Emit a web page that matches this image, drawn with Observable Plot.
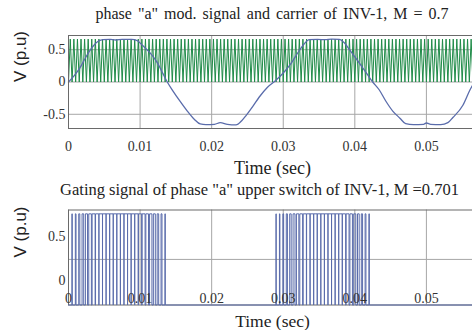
<!DOCTYPE html>
<html>
<head>
<meta charset="utf-8">
<script src="https://cdn.jsdelivr.net/npm/d3@7"></script>
<script src="https://cdn.jsdelivr.net/npm/@observablehq/plot@0.6"></script>
<style>
  html, body { margin: 0; padding: 0; background: #fff; }
  body { width: 472px; height: 330px; overflow: hidden; position: relative; }
  .ttl { position: absolute; left: 0; text-align: center; white-space: nowrap;
         font-family: "Liberation Serif", "Times New Roman", serif; font-size: 16px; line-height: 18px; color: #222; }
  .pl { position: absolute; left: 0; width: 478px; }
  .pl svg { max-width: none !important; display: block; overflow: visible; }
</style>
</head>
<body>
<div id="t1" class="ttl" style="top:5px; width:544px; word-spacing:2px;"></div>
<div id="p1" class="pl" style="top:28px;"></div>
<div id="t2" class="ttl" style="top:181px; width:519px; font-size:16.5px;"></div>
<div id="p2" class="pl" style="top:202px;"></div>
<script>
// ---- data ----
const title1 = 'phase "a" mod. signal and carrier of INV-1, M = 0.7';
const title2 = 'Gating signal of phase "a" upper switch of INV-1, M =0.701';
const xLabel = "Time (sec)";
const yLabel = "V (p.u)";
const xTicks = [0, 0.01, 0.02, 0.03, 0.04, 0.05];
const yTicksTop = [-0.5, 0, 0.5];
const gateGrid = [0.5];
const gateTickValues = [0.27, 0.75];
const gateTickLabels = ["0", "0.5"];

// modulating signal (time s, value p.u.)
const modT = [0, 0.0008, 0.0016, 0.0024, 0.0032, 0.004, 0.0048, 0.0058, 0.0066, 0.0075, 0.0088, 0.0096,
  0.0104, 0.0114, 0.0124, 0.0132, 0.0138, 0.0146, 0.0156, 0.0166, 0.0176, 0.0184, 0.0192, 0.0204,
  0.0212, 0.0222, 0.0234, 0.0242, 0.0248, 0.0258, 0.0266, 0.0278, 0.0289, 0.0300, 0.0311, 0.0322,
  0.0330, 0.0336, 0.0348, 0.0358, 0.0368, 0.0378, 0.0386, 0.0392, 0.0402, 0.0411, 0.0418, 0.0425,
  0.0434, 0.0443, 0.0453, 0.0463, 0.0471, 0.0482, 0.0496, 0.0500, 0.0506, 0.0520, 0.0530, 0.0537,
  0.0551, 0.0561, 0.0570];
const modV = [0, 0.10, 0.22, 0.38, 0.52, 0.62, 0.655, 0.66, 0.65, 0.66, 0.66, 0.64,
  0.56, 0.45, 0.30, 0.13, 0.0, -0.14, -0.30, -0.45, -0.58, -0.65, -0.66, -0.655,
  -0.63, -0.655, -0.665, -0.60, -0.52, -0.37, -0.24, -0.08, 0.02, 0.14, 0.29, 0.48,
  0.60, 0.655, 0.66, 0.655, 0.665, 0.66, 0.60, 0.51, 0.36, 0.22, 0.11, 0.0,
  -0.12, -0.29, -0.45, -0.56, -0.645, -0.66, -0.655, -0.635, -0.655, -0.66, -0.63, -0.55,
  -0.36, -0.12, 0.05];

// triangular carrier parameters
const carrierHz = 2000;
const carrierPeak = 0.665;
const tEnd = 0.057;

// ---- derived tables ----
const mod = modT.map((t, i) => ({t, v: modV[i]}));
const halfPeriod = 1 / (2 * carrierHz);
const carrier = d3.range(0, Math.ceil(tEnd / halfPeriod) + 1).map(k => ({t: k * halfPeriod, v: k % 2 ? carrierPeak : 0}));
const modAt = d3.scaleLinear().domain(modT).range(modV);
const carAt = d3.scaleLinear().domain(carrier.map(d => d.t)).range(carrier.map(d => d.v));
const gate = [];
{
  const dt = 1e-6;
  let prev = modAt(0) > carAt(0) ? 1 : 0;
  gate.push({t: 0, g: 0});
  gate.push({t: 0, g: prev});
  for (let t = dt; t <= tEnd; t += dt) {
    const g = modAt(t) > carAt(t) ? 1 : 0;
    if (g !== prev) { gate.push({t, g: prev}); gate.push({t, g}); prev = g; }
  }
  gate.push({t: tEnd, g: prev});
}

// ---- style ----
const green = "#1f8b48";
const blue = "#5a6cab";
const gridC = "#a6a6a6";
const frameC = "#6a6a6a";
const serif = '"Liberation Serif", "Times New Roman", serif';
const sans = '"Liberation Sans", Arial, sans-serif';

document.getElementById("t1").textContent = title1;
document.getElementById("t2").textContent = title2;

const tickText = {fontFamily: serif, fontSize: 14, fill: "#333"};

const p1 = Plot.plot({
  width: 478, height: 150,
  marginLeft: 68, marginRight: 2, marginTop: 7, marginBottom: 50,
  style: {fontFamily: serif, fontSize: "14px", color: "#333", background: "transparent"},
  x: {domain: [0, tEnd]},
  y: {domain: [-0.72, 0.72]},
  marks: [
    Plot.gridX(xTicks, {stroke: gridC, strokeOpacity: 1}),
    Plot.gridY(yTicksTop, {stroke: gridC, strokeOpacity: 1}),
    Plot.line(carrier, {x: "t", y: "v", stroke: green, strokeWidth: 1}),
    Plot.line(mod, {x: "t", y: "v", stroke: blue, strokeWidth: 1.3, curve: "monotone-x"}),
    Plot.frame({stroke: frameC}),
    Plot.axisX(xTicks, {tickSize: 0, tickPadding: 13, label: null, tickFormat: d => String(d), ...tickText}),
    Plot.axisY(yTicksTop, {tickSize: 0, tickPadding: 3, label: null, tickFormat: d => String(d), ...tickText}),
    Plot.text([xLabel], {text: d => d, frameAnchor: "bottom", lineAnchor: "middle", dy: 40, fontSize: 18, fontFamily: serif, fill: "#222"}),
    Plot.text([yLabel], {text: d => d, frameAnchor: "left", rotate: -90, dx: -48, fontSize: 17, fontFamily: sans, fill: "#222"})
  ]
});
document.getElementById("p1").appendChild(p1);

const p2 = Plot.plot({
  width: 478, height: 128,
  marginLeft: 68, marginRight: 2, marginTop: 7.5, marginBottom: 25.5,
  style: {fontFamily: serif, fontSize: "14px", color: "#333", background: "transparent"},
  x: {domain: [0, tEnd]},
  y: {domain: [0, 1.042]},
  marks: [
    Plot.gridX(xTicks, {stroke: gridC, strokeOpacity: 1}),
    Plot.gridY(gateGrid, {stroke: gridC, strokeOpacity: 1}),
    Plot.frame({stroke: frameC}),
    Plot.line(gate, {x: "t", y: "g", stroke: blue, strokeWidth: 1}),
    Plot.axisX(xTicks, {tickSize: 0, tickPadding: 0, dy: -12, label: null, tickFormat: d => String(d), ...tickText}),
    Plot.axisY(gateTickValues, {tickSize: 0, tickPadding: 3, label: null, tickFormat: (d, i) => gateTickLabels[i], ...tickText}),
    Plot.text([xLabel], {text: d => d, frameAnchor: "bottom", lineAnchor: "middle", dy: 16, fontSize: 17.5, fontFamily: serif, fill: "#222"}),
    Plot.text([yLabel], {text: d => d, frameAnchor: "left", rotate: -90, dx: -48, fontSize: 17, fontFamily: sans, fill: "#222"})
  ]
});
document.getElementById("p2").appendChild(p2);
</script>
</body>
</html>
